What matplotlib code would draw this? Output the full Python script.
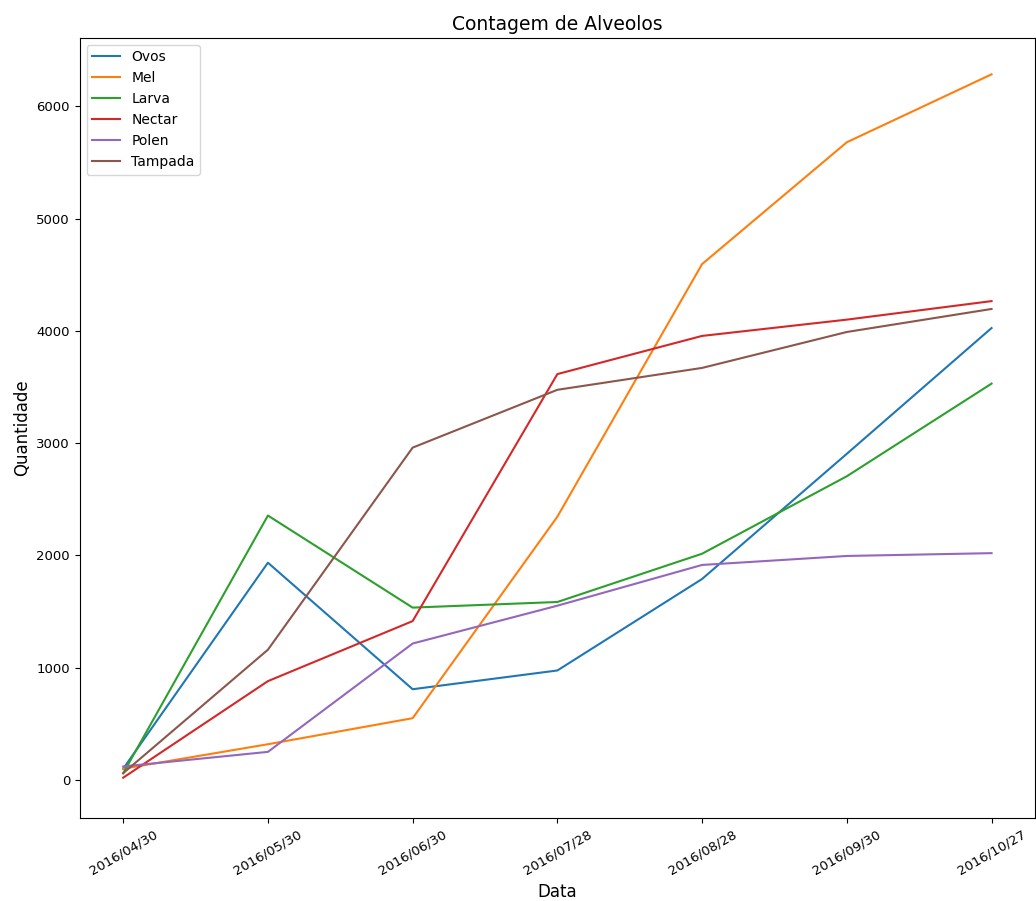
import matplotlib
matplotlib.use("Agg")
import matplotlib.pyplot as plt

datas = ["2016/04/30", "2016/05/30", "2016/06/30", "2016/07/28",
         "2016/08/28", "2016/09/30", "2016/10/27"]

ovos = [100, 1935, 808, 975, 1790, 2905, 4025]
mel = [100, 318, 550, 2345, 4595, 5680, 6285]
larva = [60, 2355, 1535, 1585, 2015, 2705, 3530]
nectar = [20, 880, 1415, 3615, 3955, 4100, 4265]
polen = [120, 250, 1215, 1552, 1915, 1995, 2020]
tampada = [60, 1160, 2960, 3475, 3670, 3990, 4195]

series = [("Ovos", ovos), ("Mel", mel), ("Larva", larva),
          ("Nectar", nectar), ("Polen", polen), ("Tampada", tampada)]

fig = plt.figure(figsize=(10.36, 9.01), dpi=100)
ax = fig.add_axes([0.077, 0.092, 0.922, 0.866])

for name, vals in series:
    ax.plot(datas, vals, label=name, linewidth=1.5)

ax.set_ylim(-340, 6610)
ax.set_title("Contagem de Alveolos", fontsize=13.5)
ax.set_xlabel("Data", fontsize=12)
ax.set_ylabel("Quantidade", fontsize=12)
ax.tick_params(axis="both", labelsize=9.5)
plt.setp(ax.get_xticklabels(), rotation=30)
ax.legend(loc="upper left", fontsize=10)

fig.savefig("out.png", dpi=100)
